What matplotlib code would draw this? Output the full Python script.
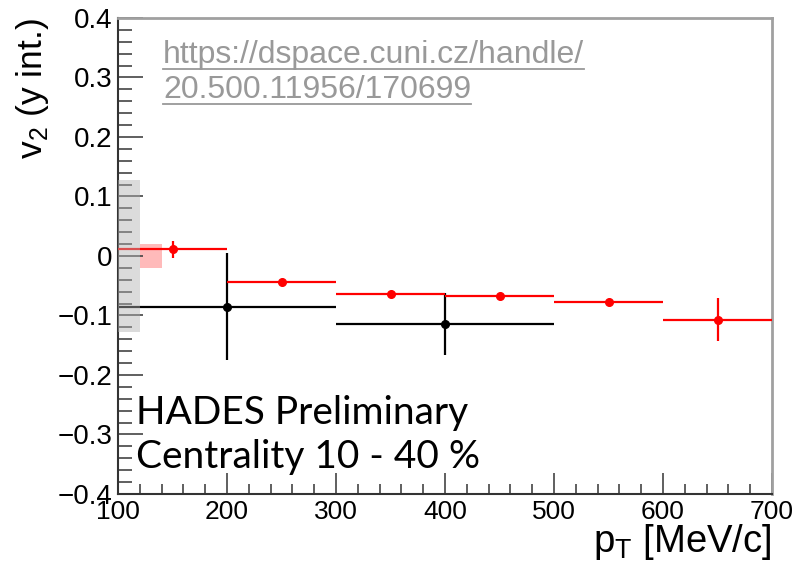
import numpy as np
import matplotlib
matplotlib.use('Agg')
import matplotlib.pyplot as plt
from matplotlib.ticker import MultipleLocator, FuncFormatter
from matplotlib.lines import Line2D

# DATA
red_x = [150, 250, 350, 450, 550, 650]
red_xerr = [50, 50, 50, 50, 50, 50]
red_y = [0.011, -0.043, -0.064, -0.067, -0.077, -0.107]
red_yerr = [0.015, 0.004, 0.004, 0.004, 0.004, 0.036]

blk_x = [200, 400]
blk_xerr = [100, 100]
blk_y = [-0.085, -0.115]
blk_yerr = [0.09, 0.052]

# systematics boxes: (x0, x1, y0, y1)
sys_gray = (100, 120, -0.127, 0.127)
sys_red = (120, 140, -0.02, 0.02)

url_lines = ['https://dspace.cuni.cz/handle/', '20.500.11956/170699']

plt.rcParams['font.family'] = ['Liberation Sans', 'DejaVu Sans']

fig = plt.figure(figsize=(8, 5.75), dpi=100)
ax = fig.add_axes([0.1475, 0.1409, 0.8175, 0.8278])

# boxes
g = sys_gray
ax.fill_between([g[0], g[1]], g[2], g[3], color='#b0b0b0', alpha=0.45,
                lw=0, zorder=4)
r = sys_red
ax.fill_between([r[0], r[1]], r[2], r[3], color='#ff0000', alpha=0.27,
                lw=0, zorder=1)

ax.errorbar(blk_x, blk_y, xerr=blk_xerr, yerr=blk_yerr, fmt='o', color='black',
            ms=5.5, lw=1.6, capsize=0, zorder=2)
ax.errorbar(red_x, red_y, xerr=red_xerr, yerr=red_yerr, fmt='o', color='#ff0000',
            ms=5.5, lw=1.6, capsize=0, zorder=3)

ax.set_xlim(100, 700)
ax.set_ylim(-0.4, 0.4)

ax.xaxis.set_major_locator(MultipleLocator(100))
ax.xaxis.set_minor_locator(MultipleLocator(20))
ax.yaxis.set_major_locator(MultipleLocator(0.1))
ax.yaxis.set_minor_locator(MultipleLocator(0.02))

def yfmt(v, pos):
    if abs(v) < 1e-9:
        return '0'
    return ('%.1f' % v).replace('-', '\u2212')

ax.yaxis.set_major_formatter(FuncFormatter(yfmt))

ax.tick_params(which='both', direction='in', top=False, right=False,
               color='#444444', width=1.2)
ax.tick_params(axis='y', which='major', length=18, pad=4, labelsize=20)
ax.tick_params(axis='y', which='minor', length=10)
ax.tick_params(axis='x', which='major', length=15, pad=4, labelsize=19)
ax.tick_params(axis='x', which='minor', length=7)

for s in ['left', 'bottom']:
    ax.spines[s].set_color('#333333')
    ax.spines[s].set_linewidth(1.5)
for s in ['top', 'right']:
    ax.spines[s].set_color('#a0a0a0')
    ax.spines[s].set_linewidth(2)

ax.set_xlabel('p$_\\mathregular{T}$ [MeV/c]', fontsize=27.5, ha='right', x=1.0,
              labelpad=-1)
ax.set_ylabel('v$_\\mathregular{2}$ (y int.)', fontsize=25.5, ha='right', y=1.0,
              labelpad=5)

ax.text(0.027, 0.0546, 'HADES Preliminary\nCentrality 10 - 40 %',
        transform=ax.transAxes, fontsize=28, family=['Lato', 'DejaVu Sans'],
        va='baseline', ha='left', linespacing=1.29, zorder=6)

url_texts = []
for i, line in enumerate(url_lines):
    t = fig.text(163 / 800, 1 - (63 + 35 * i) / 575, line, fontsize=23,
                 color='#999999', ha='left', va='baseline')
    url_texts.append(t)

# underline the link text
fig.canvas.draw()
renderer = fig.canvas.get_renderer()
for t in url_texts:
    bb = t.get_window_extent(renderer)
    x0, y0 = t.get_position()
    ybase = y0 * fig.bbox.height - 6
    fig.add_artist(Line2D([bb.x0 / fig.bbox.width, bb.x1 / fig.bbox.width],
                          [ybase / fig.bbox.height] * 2,
                          color='#999999', lw=1.3))

fig.savefig('out.png', dpi=100)
